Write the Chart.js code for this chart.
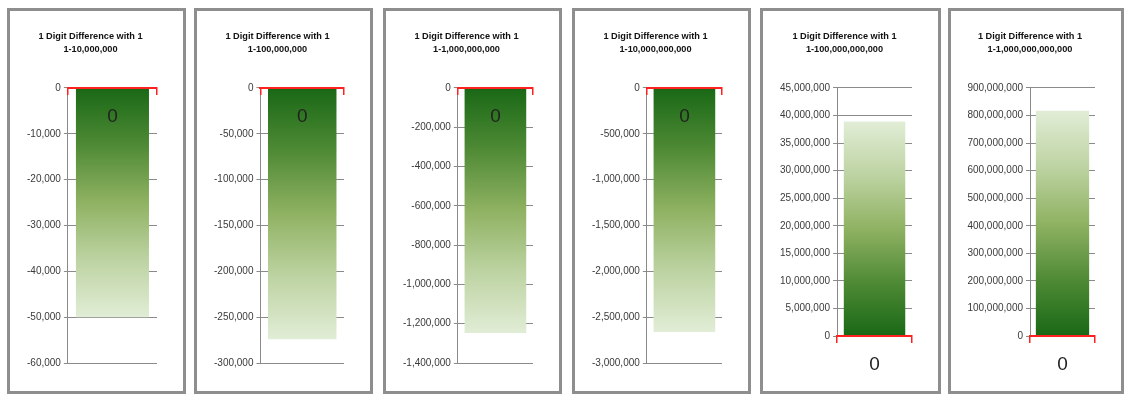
<!DOCTYPE html>
<html>
<head>
<meta charset="utf-8">
<title>1 Digit Difference with 1</title>
<script src="https://cdn.jsdelivr.net/npm/chart.js@4.4.1/dist/chart.umd.min.js"></script>
<style>
  html, body { margin: 0; padding: 0; background: #fff; overflow: hidden; }
  body { width: 1124px; height: 394px; position: relative; }
  .panel {
    position: absolute; top: 8px; height: 386px;
    box-sizing: border-box; border: 3px solid #8e8e8e; background: #fff;
  }
  .panel canvas { display: block; }
</style>
</head>
<body>
<script>
// chart data
const titleLine = "1 Digit Difference with 1";
const rangeLabels = [
  "1-10,000,000",
  "1-100,000,000",
  "1-1,000,000,000",
  "1-10,000,000,000",
  "1-100,000,000,000",
  "1-1,000,000,000,000"
];
const categories = ["0"];
const diffValues = [-50000, -274000, -1247000, -2663000, 38900000, 817000000];
const axisMin  = [-60000, -300000, -1400000, -3000000, 0, 0];
const axisMax  = [0, 0, 0, 0, 45000000, 900000000];
const axisStep = [10000, 50000, 200000, 500000, 5000000, 100000000];

// panel boxes on the page
const panelLeft  = [7, 194, 383, 572, 760, 948];
const panelWidth = [179, 179, 179, 179, 181, 176];

const FONT = "'Liberation Sans', Arial, sans-serif";

function barFill(ctx) {
  const chart = ctx.chart;
  const y = chart.scales.y;
  if (!chart.chartArea || !y || ctx.type !== "data") return "#1b6a17";
  const p0 = y.getPixelForValue(0);
  const p1 = y.getPixelForValue(ctx.raw);
  const g = chart.ctx.createLinearGradient(0, p0, 0, p1);
  g.addColorStop(0, "#196816");
  g.addColorStop(0.25, "#4f8a35");
  g.addColorStop(0.5, "#8fb262");
  g.addColorStop(0.75, "#bdd3a2");
  g.addColorStop(1, "#e1edd6");
  return g;
}

function makePanel(i) {
  const box = document.createElement("div");
  box.className = "panel";
  box.style.left = panelLeft[i] + "px";
  box.style.width = panelWidth[i] + "px";
  const cv = document.createElement("canvas");
  cv.width = panelWidth[i] - 6;
  cv.height = 380;
  box.appendChild(cv);
  document.body.appendChild(box);

  const positive = diffValues[i] > 0;

  new Chart(cv, {
    type: "bar",
    data: {
      labels: categories,
      datasets: [{
        data: [diffValues[i]],
        backgroundColor: barFill,
        borderWidth: 0,
        categoryPercentage: 1,
        barPercentage: 0.82
      }]
    },
    options: {
      responsive: false,
      animation: false,
      events: [],
      layout: { padding: { left: 14, right: 26, top: 0, bottom: positive ? 55 : 28 } },
      plugins: {
        legend: { display: false },
        tooltip: { enabled: false },
        title: {
          display: true,
          text: [titleLine, rangeLabels[i]],
          color: "#111",
          font: { family: FONT, size: 9.2, weight: "bold", lineHeight: 1.413 },
          padding: { top: 18.5, bottom: 32.5 }
        }
      },
      scales: {
        x: {
          type: "category",
          position: { y: 0 },
          offset: true,
          grid: {
            display: true, offset: true, drawOnChartArea: false, drawTicks: true,
            tickLength: 6, color: "#ff2020", lineWidth: 1.5, z: 1
          },
          border: { display: true, color: "#ff2020", width: 2, z: 1 },
          ticks: {
            color: "#222", padding: 11, z: 1,
            font: { family: FONT, size: 19 }
          }
        },
        y: {
          min: axisMin[i],
          max: axisMax[i],
          grid: { color: "#8a8a8a", lineWidth: 1, tickLength: 4, drawTicks: true },
          border: { display: true, color: "#8a8a8a", width: 1 },
          ticks: {
            stepSize: axisStep[i],
            padding: 3,
            color: "#3a3a3a",
            font: { family: FONT, size: 10 },
            callback: v => Number(v).toLocaleString("en-US")
          }
        }
      }
    }
  });
}

rangeLabels.forEach((_, i) => makePanel(i));
</script>
</body>
</html>
